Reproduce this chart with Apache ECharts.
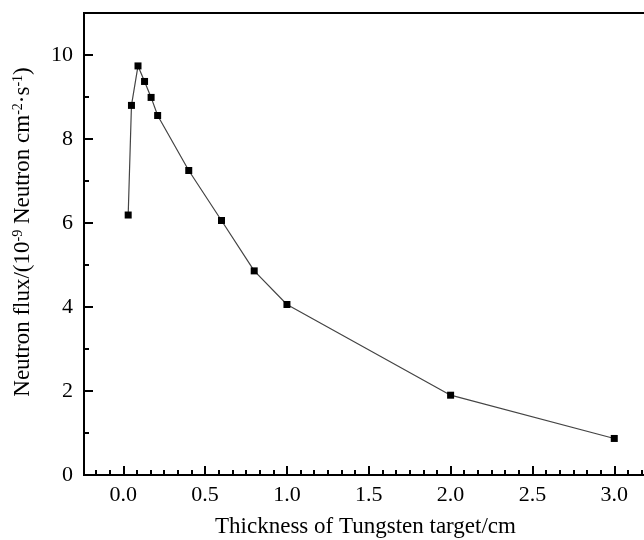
<!DOCTYPE html>
<html>
<head>
<meta charset="utf-8">
<script src="https://cdn.jsdelivr.net/npm/echarts@6/dist/echarts.min.js"></script>
<style>
  html, body { margin: 0; padding: 0; background: #fff; }
  #chart { width: 644px; height: 540px; }
</style>
</head>
<body>
<div id="chart"></div>
<script>
// thickness (cm) and flux values
var thickness = [0.03, 0.05, 0.09, 0.13, 0.17, 0.21, 0.4, 0.6, 0.8, 1.0, 2.0, 3.0];
var flux = [6.19, 8.80, 9.74, 9.37, 8.99, 8.56, 7.25, 6.06, 4.86, 4.06, 1.90, 0.87];

var xTicks = [0.0, 0.5, 1.0, 1.5, 2.0, 2.5, 3.0];
var yTicks = [0, 2, 4, 6, 8, 10];

// minor ticks: 6 steps per 0.5 on x, 1 step on y
var xMinor = [];
for (var i = -2; i <= 38; i++) {
    var v = +(i / 12).toFixed(4);
    if (i % 6 !== 0) xMinor.push(v);
}
var yMinor = [1, 3, 5, 7, 9];

var FONT = "'Liberation Serif', 'Times New Roman', serif";
var X_MIN = -0.24, X_MAX = 3.2, Y_MIN = 0, Y_MAX = 11;

var myChart = echarts.init(document.getElementById('chart'));

var option = {
    backgroundColor: '#fff',
    animation: false,
    grid: {
        left: 84, right: -3, top: 13, bottom: 65,
        outerBoundsMode: 'none',
        show: true, borderColor: '#000', borderWidth: 2
    },
    xAxis: [
        {
            type: 'value', min: X_MIN, max: X_MAX,
            name: 'Thickness of Tungsten target/cm',
            nameLocation: 'middle', nameGap: 40,
            nameTextStyle: { fontFamily: FONT, fontSize: 23, color: '#000' },
            axisLine: { show: true, onZero: false, lineStyle: { color: '#000', width: 2 } },
            axisTick: { show: true, inside: true, length: 9, customValues: xTicks, lineStyle: { color: '#000', width: 2 } },
            axisLabel: {
                customValues: xTicks, margin: 9,
                fontFamily: FONT, fontSize: 22, color: '#000',
                formatter: function (v) { return v.toFixed(1); }
            },
            splitLine: { show: false }
        },
        {
            type: 'value', min: X_MIN, max: X_MAX, position: 'bottom',
            axisLine: { show: false, onZero: false },
            axisTick: { show: true, inside: true, length: 5, customValues: xMinor, lineStyle: { color: '#000', width: 2 } },
            axisLabel: { show: false },
            splitLine: { show: false }
        }
    ],
    yAxis: [
        {
            type: 'value', min: Y_MIN, max: Y_MAX,
            name: 'Neutron flux/(10{sup|-9} Neutron cm{sup|-2}·s{sup|-1})',
            nameLocation: 'middle', nameGap: 50,
            nameTextStyle: {
                fontFamily: FONT, fontSize: 23, color: '#000',
                padding: [0, 0, 0, 24],
                rich: { sup: { fontFamily: FONT, fontSize: 14, color: '#000', verticalAlign: 'top' } }
            },
            axisLine: { show: true, onZero: false, lineStyle: { color: '#000', width: 2 } },
            axisTick: { show: true, inside: true, length: 9, customValues: yTicks, lineStyle: { color: '#000', width: 2 } },
            axisLabel: {
                customValues: yTicks, margin: 11,
                fontFamily: FONT, fontSize: 22, color: '#000'
            },
            splitLine: { show: false }
        },
        {
            type: 'value', min: Y_MIN, max: Y_MAX, position: 'left',
            axisLine: { show: false, onZero: false },
            axisTick: { show: true, inside: true, length: 5, customValues: yMinor, lineStyle: { color: '#000', width: 2 } },
            axisLabel: { show: false },
            splitLine: { show: false }
        }
    ],
    series: [
        {
            type: 'line',
            xAxisIndex: 0, yAxisIndex: 0,
            data: thickness.map(function (t, i) { return [t, flux[i]]; }),
            symbol: 'rect', symbolSize: 7,
            itemStyle: { color: '#000' },
            lineStyle: { color: '#444', width: 1.2 }
        }
    ]
};

myChart.setOption(option);
</script>
</body>
</html>
